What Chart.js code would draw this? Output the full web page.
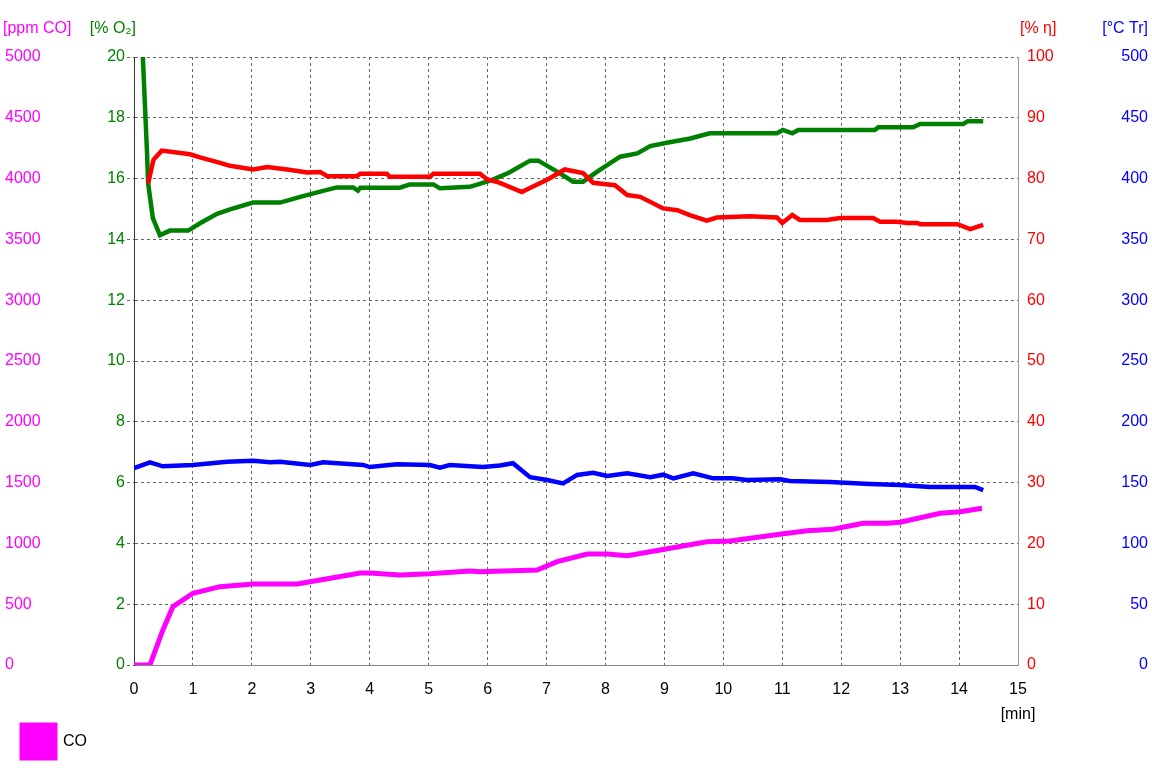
<!DOCTYPE html>
<html>
<head>
<meta charset="utf-8">
<script src="https://cdn.jsdelivr.net/npm/chart.js@4.4.1/dist/chart.umd.min.js"></script>
<style>
  html, body { margin: 0; padding: 0; background: #fff; }
</style>
</head>
<body>
<canvas id="myChart" width="1152" height="768"></canvas>
<script>
// thời gian [min] và giá trị cho từng đường
var o2Time = [0.15, 0.22, 0.24, 0.32, 0.44, 0.61, 0.92, 1.12, 1.41, 1.63, 2.02, 2.48, 2.82, 3.16, 3.44, 3.72, 3.80, 3.84, 4.51, 4.68, 5.08, 5.19, 5.70, 6.07, 6.36, 6.72, 6.86, 7.18, 7.45, 7.62, 7.86, 8.25, 8.54, 8.76, 9.04, 9.44, 9.77, 10.91, 11.01, 11.17, 11.27, 12.57, 12.63, 13.22, 13.34, 14.07, 14.15, 14.41];
var o2Values = [20.0, 16.9, 15.84, 14.7, 14.14, 14.29, 14.29, 14.53, 14.84, 14.99, 15.21, 15.21, 15.4, 15.57, 15.71, 15.71, 15.6, 15.7, 15.7, 15.81, 15.81, 15.68, 15.73, 15.95, 16.19, 16.59, 16.59, 16.23, 15.9, 15.9, 16.23, 16.72, 16.83, 17.07, 17.18, 17.32, 17.49, 17.49, 17.6, 17.49, 17.6, 17.6, 17.69, 17.69, 17.8, 17.8, 17.89, 17.89];

var etaTime = [0.24, 0.33, 0.47, 0.95, 1.12, 1.46, 1.63, 2.02, 2.26, 2.60, 2.94, 3.16, 3.28, 3.78, 3.84, 4.29, 4.34, 5.02, 5.08, 5.87, 5.99, 6.21, 6.58, 6.77, 7.01, 7.31, 7.62, 7.79, 8.16, 8.37, 8.59, 8.98, 9.22, 9.43, 9.72, 9.89, 10.45, 10.91, 11.00, 11.17, 11.30, 11.76, 11.98, 12.54, 12.66, 12.95, 13.12, 13.29, 13.34, 13.97, 14.19, 14.41];
var etaValues = [79.2, 83.1, 84.6, 84.0, 83.5, 82.6, 82.1, 81.5, 81.9, 81.5, 81.0, 81.1, 80.4, 80.4, 80.8, 80.8, 80.3, 80.3, 80.8, 80.8, 79.9, 79.3, 77.8, 78.7, 79.8, 81.5, 80.9, 79.3, 78.9, 77.3, 77.0, 75.1, 74.8, 74.0, 73.1, 73.6, 73.8, 73.6, 72.7, 74.0, 73.2, 73.2, 73.5, 73.5, 72.9, 72.9, 72.7, 72.7, 72.5, 72.5, 71.7, 72.4];

var trTime = [0.00, 0.27, 0.49, 1.00, 1.58, 2.02, 2.31, 2.48, 2.99, 3.21, 3.89, 4.00, 4.46, 5.02, 5.19, 5.36, 5.92, 6.21, 6.43, 6.72, 7.01, 7.28, 7.52, 7.79, 8.03, 8.37, 8.76, 8.98, 9.15, 9.49, 9.83, 10.16, 10.40, 10.96, 11.13, 11.81, 12.49, 13.00, 13.51, 14.27, 14.41];
var trValues = [161.8, 166.7, 163.4, 164.5, 167.2, 168.0, 166.7, 167.2, 164.5, 166.7, 164.5, 162.8, 165.0, 164.5, 162.3, 164.5, 162.8, 164.0, 165.9, 154.4, 152.1, 149.4, 156.3, 158.1, 155.4, 157.7, 154.4, 156.5, 153.5, 157.7, 153.5, 153.5, 152.1, 152.7, 151.3, 150.5, 148.8, 148.0, 146.4, 146.4, 143.9];

var coTime = [0.00, 0.27, 0.49, 0.66, 1.00, 1.46, 2.02, 2.77, 3.16, 3.84, 4.00, 4.51, 5.02, 5.70, 5.87, 6.84, 7.18, 7.69, 8.03, 8.37, 8.93, 9.72, 10.11, 10.96, 11.42, 11.86, 12.37, 12.78, 13.00, 13.68, 14.02, 14.39];
var coValues = [0, 0, 288, 479, 590, 644, 666, 666, 699, 757, 757, 740, 750, 773, 767, 781, 850, 913, 913, 899, 946, 1014, 1020, 1075, 1104, 1116, 1165, 1165, 1174, 1248, 1261, 1289];

// nhãn trục
var axisTitles = { co: '[ppm CO]', o2: '[% O\u2082]', eta: '[% \u03b7]', tr: '[\u00b0C Tr]', x: '[min]' };

function toPoints(times, values) {
    return times.map(function(t, i) { return { x: t, y: values[i] }; });
}

var FONT = '"Liberation Sans", Arial, sans-serif';
Chart.defaults.font.family = FONT;
Chart.defaults.font.size = 16;

// vẽ tiêu đề các trục ở phía trên
var titlePlugin = {
    id: 'axisTitles',
    afterDraw: function(chart) {
        var c = chart.ctx, s = chart.scales;
        var y = chart.chartArea.top - 28;
        c.save();
        c.font = '16px ' + FONT;
        c.textBaseline = 'middle';
        c.fillStyle = '#FF00FF'; c.textAlign = 'left';
        c.fillText(axisTitles.co, s.yCO.left - 2, y);
        c.fillStyle = '#008000'; c.textAlign = 'right';
        c.fillText(axisTitles.o2, s.yO2.right + 2, y);
        c.fillStyle = '#FF0000'; c.textAlign = 'left';
        c.fillText(axisTitles.eta, s.yEta.left + 2, y);
        c.fillStyle = '#0000FF'; c.textAlign = 'right';
        c.fillText(axisTitles.tr, s.yTr.right, y);
        c.fillStyle = '#000'; c.textAlign = 'center';
        c.fillText(axisTitles.x, s.x.right, chart.chartArea.bottom + 50);
        c.restore();
    }
};

var ctx = document.getElementById('myChart').getContext('2d');
var chart = new Chart(ctx, {
    type: 'line',
    data: {
        datasets: [
            {
                label: '\u03b7',
                data: toPoints(etaTime, etaValues),
                yAxisID: 'yEta',
                borderColor: '#FF0000',
                backgroundColor: '#FF0000',
                borderWidth: 4.5
            },
            {
                label: 'O2',
                data: toPoints(o2Time, o2Values),
                yAxisID: 'yO2',
                borderColor: '#008000',
                backgroundColor: '#008000',
                borderWidth: 4.5
            },
            {
                label: 'Tr',
                data: toPoints(trTime, trValues),
                yAxisID: 'yTr',
                borderColor: '#0000FF',
                backgroundColor: '#0000FF',
                borderWidth: 4.5
            },
            {
                label: 'CO',
                data: toPoints(coTime, coValues),
                yAxisID: 'yCO',
                borderColor: '#FF00FF',
                backgroundColor: '#FF00FF',
                borderWidth: 5
            }
        ]
    },
    options: {
        responsive: false,
        animation: false,
        events: [],
        elements: { point: { radius: 0 }, line: { tension: 0 } },
        layout: { padding: { left: 5, right: 4, top: 57, bottom: 0 } },
        plugins: {
            tooltip: { enabled: false },
            legend: {
                position: 'bottom',
                align: 'start',
                labels: {
                    boxWidth: 33,
                    boxHeight: 33,
                    padding: 17,
                    color: '#000',
                    filter: function(item) { return item.text === 'CO'; }
                }
            }
        },
        scales: {
            x: {
                type: 'linear',
                min: 0, max: 15,
                ticks: { stepSize: 1, padding: 15, color: '#000', callback: function(v) { return v; } },
                grid: { color: '#666', drawTicks: false },
                border: { color: '#888', dash: [3, 3] },
                afterFit: function(s) { s.height = 43; }
            },
            yCO: {
                position: 'left', weight: 2,
                min: 0, max: 5000,
                ticks: { stepSize: 500, color: '#FF00FF', crossAlign: 'far', padding: 0, callback: function(v) { return v; } },
                grid: { display: false, drawTicks: false },
                border: { display: false },
                afterFit: function(s) { s.width = 65; }
            },
            yO2: {
                position: 'left', weight: 1,
                min: 0, max: 20,
                ticks: { stepSize: 2, color: '#008000', padding: 2 },
                grid: { color: '#666', tickLength: 7, tickBorderDash: [3, 3] },
                border: { color: '#333', dash: [3, 3] },
                afterFit: function(s) { s.width = 64; }
            },
            yEta: {
                position: 'right', weight: 1,
                min: 0, max: 100,
                ticks: { stepSize: 10, color: '#FF0000', padding: 9 },
                grid: { display: false, drawTicks: false },
                border: { color: '#999' },
                afterFit: function(s) { s.width = 62; }
            },
            yTr: {
                position: 'right', weight: 2,
                min: 0, max: 500,
                ticks: { stepSize: 50, color: '#0000FF', crossAlign: 'far', padding: 0 },
                grid: { display: false, drawTicks: false },
                border: { display: false },
                afterFit: function(s) { s.width = 68; }
            }
        }
    },
    plugins: [titlePlugin]
});
</script>
</body>
</html>
